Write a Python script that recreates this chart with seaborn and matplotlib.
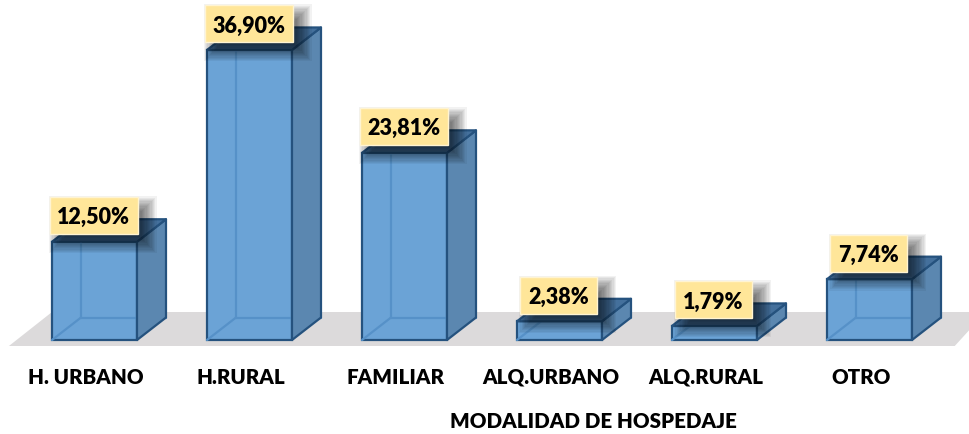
import numpy as np
import pandas as pd
import seaborn as sns
import matplotlib.pyplot as plt
from matplotlib.patches import Polygon, Rectangle
from matplotlib.transforms import IdentityTransform

categorias = ["H. URBANO", "H.RURAL", "FAMILIAR", "ALQ.URBANO", "ALQ.RURAL", "OTRO"]
valores = [12.50, 36.90, 23.81, 2.38, 1.79, 7.74]
etiquetas = ["12,50%", "36,90%", "23,81%", "2,38%", "1,79%", "7,74%"]

sns.set_style("white")
plt.rcParams["font.family"] = ["Lato", "DejaVu Sans"]

W, H = 969, 434
PX_X = 155.0        # pixels per category
PX_Y = 7.86         # pixels per percentage point
BASE_PX = 340
FLOOR_PX = 346

FRENTE = "#6BA3D6"
LADO = "#5B87B0"
ARRIBA = "#44709C"
BORDE = "#25527E"
INTERIOR = "#5691C8"
SUELO = "#DCDADB"
CAJA = "#FFE699"

df = pd.DataFrame({"modalidad": categorias, "pct": valores})

fig = plt.figure(figsize=(W / 100, H / 100), dpi=100)
ax = fig.add_axes([0, (H - FLOOR_PX) / H, 1, FLOOR_PX / H])

sns.barplot(data=df, x="modalidad", y="pct", order=categorias, color=FRENTE, saturation=1,
            width=85 / PX_X, edgecolor=BORDE, linewidth=1.6, ax=ax, zorder=3)

ax.set_xlim(-94.5 / PX_X, (W - 94.5) / PX_X)
ax.set_ylim((BASE_PX - FLOOR_PX) / PX_Y, BASE_PX / PX_Y)

dx = 29 / PX_X
dy = 22.5 / PX_Y

# floor under the bars
y0, y1 = ax.get_ylim()[0], 28 / PX_Y
ax.add_patch(Polygon([(-0.552, y0), (-0.274, y1), (5.75, y1), (5.55, y0)], closed=True,
                     fc=SUELO, ec="none", zorder=1))

for barra, txt in zip(ax.patches[:6], etiquetas):
    x, w, h = barra.get_x(), barra.get_width(), barra.get_height()
    # back edges, seen through the front
    ax.plot([x + dx, x + dx], [dy, h + dy], color=INTERIOR, lw=1.6, zorder=4)
    ax.plot([x + dx, x + w + dx], [dy, dy], color=INTERIOR, lw=1.6, zorder=4)
    ax.plot([x, x + dx], [0, dy], color=INTERIOR, lw=1.6, zorder=4)
    # side and top
    ax.add_patch(Polygon([(x + w, 0), (x + w + dx, dy), (x + w + dx, h + dy), (x + w, h)],
                         closed=True, fc=LADO, ec=BORDE, lw=1.6, joinstyle="round", zorder=5))
    ax.add_patch(Polygon([(x, h), (x + dx, h + dy), (x + w + dx, h + dy), (x + w, h)],
                         closed=True, fc=ARRIBA, ec=BORDE, lw=1.6, joinstyle="round", zorder=5))

    # label box with a soft shadow, in pixels
    cx, cy = ax.transData.transform((x + w / 2 - 1 / PX_X, h + 26 / PX_Y))
    bw = 88 if len(txt) > 5 else 77
    bh = 37
    for r in np.arange(10, -10, -1.25):
        ax.add_patch(Rectangle((cx - bw / 2 + 9 - r, cy - bh / 2 - 9 - r), bw + 2 * r, bh + 2 * r,
                               fc="black", ec="none", alpha=0.05, zorder=6,
                               transform=IdentityTransform()))
    ax.add_patch(Rectangle((cx - bw / 2, cy - bh / 2), bw, bh, fc=CAJA, ec="#FFF4D2", lw=1,
                           zorder=7, transform=IdentityTransform()))
    ax.text(cx, cy, txt, fontsize=15.5, fontweight="heavy", color="black", ha="center",
            va="center_baseline", zorder=8, transform=IdentityTransform())

ax.set_xticks(np.arange(6) - 8.5 / PX_X, categorias)
ax.tick_params(axis="x", length=0, pad=15.5, labelsize=14.8, labelcolor="black")
for t in ax.get_xticklabels():
    t.set_fontweight("heavy")
ax.set_xlabel("MODALIDAD DE HOSPEDAJE", fontsize=14.8, fontweight="heavy", color="black", va="center")
ax.xaxis.set_label_coords(593 / W, (FLOOR_PX - 421) / FLOOR_PX)
ax.set_ylabel("")
ax.set_yticks([])
sns.despine(ax=ax, left=True, bottom=True)

fig.savefig("out.png", dpi=100)
